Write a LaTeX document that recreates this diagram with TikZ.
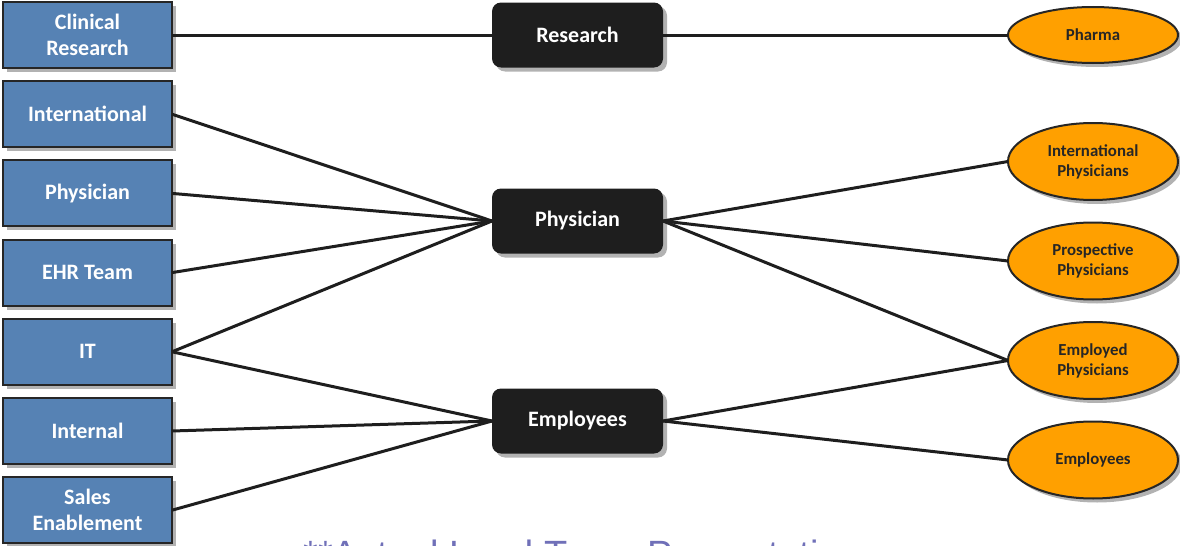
\documentclass[tikz,border=0pt]{standalone}
\usepackage{fontspec}
\setmainfont{Carlito}
\newfontfamily\notefont{Liberation Sans}
\usepackage{xcolor}
\usepackage{tikz}
\usetikzlibrary{positioning,shapes,shadows}

\definecolor{teamblue}{RGB}{86,130,180}
\definecolor{hubblack}{RGB}{30,30,30}
\definecolor{grouporange}{RGB}{255,160,0}
\definecolor{edgegray}{RGB}{38,38,38}
\definecolor{notelilac}{RGB}{112,112,184}

\begin{document}
\begin{tikzpicture}[x=0.5pt, y=-0.5pt, node distance=6.6pt,
  softshadow/.style={drop shadow={shadow xshift=2pt, shadow yshift=-2pt, opacity=.3, fill=black}},
  team/.style={draw=edgegray, line width=1pt, fill=teamblue, rectangle, softshadow,
    minimum width=84.5pt, minimum height=33pt, inner sep=0pt, outer sep=0pt,
    align=center, text=white, font=\bfseries\fontsize{11}{13}\selectfont},
  hub/.style={fill=hubblack, rectangle, rounded corners=4.5pt, softshadow,
    minimum width=85.5pt, minimum height=32.5pt, inner sep=0pt, outer sep=0pt,
    text=white, font=\bfseries\fontsize{11}{13}\selectfont},
  group/.style={draw=edgegray, line width=1pt, fill=grouporange, ellipse, softshadow,
    minimum width=85pt, minimum height=38.5pt, inner sep=0pt, outer sep=0pt,
    align=center, text=edgegray, font=\bfseries\fontsize{8.4}{10}\selectfont},
  link/.style={line width=1.5pt, draw=hubblack}]
  \useasboundingbox (0,0) rectangle (1180,546);

  % left column
  \node[team] (CR) at (87.5,35) {Clinical\\Research};
  \node[team, below=of CR] (IN) {International};
  \node[team, below=of IN] (PH) {Physician};
  \node[team, below=of PH] (EHR) {EHR Team};
  \node[team, below=of EHR] (IT) {IT};
  \node[team, below=of IT] (INL) {Internal};
  \node[team, below=of INL] (SE) {Sales\\Enablement};

  % middle
  \node[hub] (R) at (577.5,35) {Research};
  \node[hub] (P) at (577.5,221) {Physician};
  \node[hub] (E) at (577.5,421) {Employees};

  % right column
  \node[group, minimum height=28pt] (PHA) at (1093,35) {Pharma};
  \node[group] (IP) at (1093,161.5) {International\\Physicians};
  \node[group, below=11.25pt of IP] (PP) {Prospective\\Physicians};
  \node[group, below=11.25pt of PP] (EP) {Employed\\Physicians};
  \node[group, below=11.25pt of EP] (EMP) {Employees};

  \draw[link] (CR.east) -- (R.west);
  \draw[link] (R.east) -- (PHA.west);
  \draw[link] (IN.east) -- (P.west);
  \draw[link] (PH.east) -- (P.west);
  \draw[link] (EHR.east) -- (P.west);
  \draw[link] (IT.east) -- (P.west);
  \draw[link] (IT.east) -- (E.west);
  \draw[link] (INL.east) -- (E.west);
  \draw[link] (SE.east) -- (E.west);
  \draw[link] (P.east) -- (IP.west);
  \draw[link] (P.east) -- (PP.west);
  \draw[link] (P.east) -- (EP.west);
  \draw[link] (E.east) -- (EP.west);
  \draw[link] (E.east) -- (EMP.west);

  % note, cut off at the lower edge
  \begin{scope}
    \clip (0,0) rectangle (1180,546);
    \node[anchor=base west, inner sep=0pt, text=notelilac, font=\notefont\fontsize{19}{22}\selectfont] (NOTE) at (303,567) {**Actual Lead Team Presentation};
  \end{scope}
\end{tikzpicture}
\end{document}
